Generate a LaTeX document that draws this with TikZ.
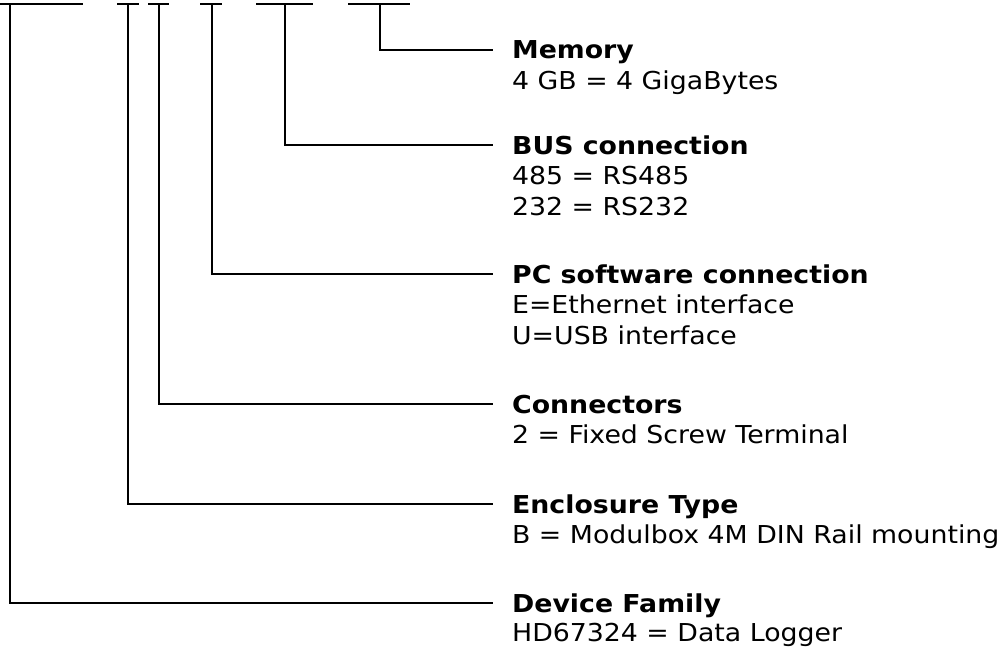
\documentclass[tikz,border=0pt]{standalone}
\usepackage{fontspec}
\setmainfont[FakeStretch=1.085]{DejaVu Sans}
\usetikzlibrary{positioning}

\begin{document}
\begin{tikzpicture}[x=0.75pt,y=-0.75pt,line width=1.7pt]
\tikzset{
  title/.style={font=\bfseries\fontsize{18.5}{23}\selectfont, anchor=west, inner sep=0pt, text height=13.5pt, text depth=0pt},
  desc/.style={font=\fontsize{18.5}{23}\selectfont, anchor=base west, inner sep=0pt, align=left}
}
\useasboundingbox (0,0) rectangle (1005,649);

% ===== Code positions (top) =====
\draw (0,4) -- (83,4);
\draw (117,4) -- (139,4);
\draw (148,4) -- (169,4);
\draw (200,4) -- (222,4);
\draw (256,4) -- (313,4);
\draw (348,4) -- (410,4);
\coordinate (cFam) at (10,4);
\coordinate (cEnc) at (128,4);
\coordinate (cCon) at (159,4);
\coordinate (cPC)  at (212,4);
\coordinate (cBus) at (285,4);
\coordinate (cMem) at (380,4);

% ===== Labels (desc: base = last line) =====
\node[title] (mem) at (511,50) {Memory};
\node[desc] (memD) at (511,90) {4 GB = 4 GigaBytes};

\node[title] (bus) at (511,145) {BUS connection};
\node[desc] (busD) at (511,215) {485 = RS485\\232 = RS232};

\node[title] (pc) at (511,274) {PC software connection};
\node[desc] (pcD) at (511,344) {E=Ethernet interface\\U=USB interface};

\node[title] (con) at (511,404) {Connectors};
\node[desc] (conD) at (511,443) {2 = Fixed Screw Terminal};

\node[title] (enc) at (511,504) {Enclosure Type};
\node[desc] (encD) at (511,543) {B = Modulbox 4M DIN Rail mounting};

\node[title] (fam) at (511,603) {Device Family};
\node[desc] (famD) at (511,641) {HD67324 = Data Logger};

% ===== Connectors =====
\draw (cMem) |- ([xshift=-13.5pt]mem.west);
\draw (cBus) |- ([xshift=-13.5pt]bus.west);
\draw (cPC)  |- ([xshift=-13.5pt]pc.west);
\draw (cCon) |- ([xshift=-13.5pt]con.west);
\draw (cEnc) |- ([xshift=-13.5pt]enc.west);
\draw (cFam) |- ([xshift=-13.5pt]fam.west);

\end{tikzpicture}
\end{document}
